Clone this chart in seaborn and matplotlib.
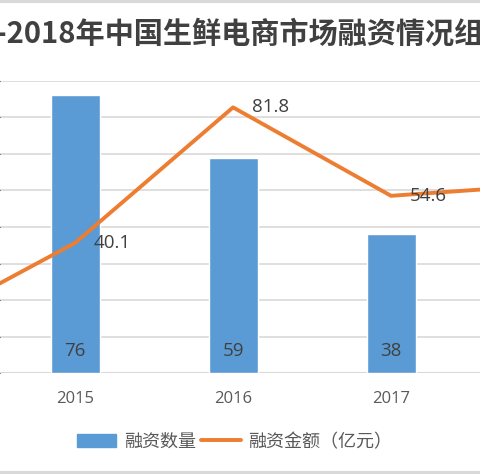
import numpy as np
import pandas as pd
import matplotlib
matplotlib.use("Agg")
import matplotlib.pyplot as plt
from matplotlib.lines import Line2D
import seaborn as sns

# data (2014 and 2018 lie outside the visible crop)
years = ["2014", "2015", "2016", "2017", "2018"]
deal_count = [np.nan, 76, 59, 38, np.nan]
deal_amount = [14.0, 40.1, 81.8, 54.6, 58.0]
shown_labels = [False, True, True, True, False]

title = "2014-2018年中国生鲜电商市场融资情况组合图"
bar_label = "融资数量"
line_label = "融资金额（亿元）"

sns.set_style("white")
plt.rcParams['font.family'] = ['Noto Sans CJK SC', 'DejaVu Sans']

BLUE = "#5B9BD5"
ORANGE = "#ED7D31"
GRID = "#D9D9D9"
TXT = "#404040"
NUMFONT = ["Open Sans", "DejaVu Sans"]

fig = plt.figure(figsize=(4.8, 4.74), dpi=100)
ax = fig.add_axes([0, 0.2124, 1, 0.6173])

df = pd.DataFrame({"year": years, "count": deal_count, "amount": deal_amount})
sns.barplot(data=df, x="year", y="count", color=BLUE, width=0.31,
            saturation=1, ax=ax, zorder=2)
ax.set_ylim(0, 80)
ax.set_yticks(np.arange(0, 81, 10))
ax.yaxis.grid(True, color=GRID, lw=1.2, zorder=0)
ax.set_axisbelow(True)
for s in ax.spines.values():
    s.set_visible(False)
ax.axhline(0, color=GRID, lw=1.5, zorder=1)
ax.set_yticklabels([])
ax.tick_params(left=False, bottom=False, axis="x", pad=9, labelsize=12, labelcolor="#595959")
for t in ax.get_xticklabels():
    t.set_family(NUMFONT)
ax.set_xlabel("")
ax.set_ylabel("")

for i, v in enumerate(deal_count):
    if not np.isnan(v):
        ax.text(i, 6.0, f"{v:.0f}", ha="center", va="center",
                fontsize=13.5, color=TXT, family=NUMFONT, zorder=3)

ax2 = ax.twinx()
sns.lineplot(x=np.arange(len(years)), y=deal_amount, color=ORANGE, lw=2.8,
             sort=False, ax=ax2, zorder=4)
ax2.set_ylim(0, 90)
ax2.set_yticks([])
for s in ax2.spines.values():
    s.set_visible(False)

for i, v in enumerate(deal_amount):
    if shown_labels[i]:
        ax2.text(i + 0.12, v, f"{v}", ha="left", va="center", fontsize=13.5,
                 color=TXT, family=NUMFONT, zorder=5)

ax.set_xlim(0.525, 3.563)
ax2.set_xlim(0.525, 3.563)

# the chart is a crop: title runs past both edges
fig.text(-0.149, 0.930, title, ha="left", va="center", fontsize=21.0,
         fontweight="bold", color=TXT)

handles = [plt.Rectangle((0, 0), 1, 1, color=BLUE),
           Line2D([0], [0], color=ORANGE, lw=2.8)]
fig.legend(handles, [bar_label, line_label], loc="center",
           bbox_to_anchor=(0.488, 0.068), ncol=2, frameon=False, fontsize=13,
           handlelength=2.2, columnspacing=0.3, handletextpad=0.4,
           labelcolor="#595959")

fig.add_artist(Line2D([0, 1], [0.998, 0.998], color=GRID, lw=3))
fig.add_artist(Line2D([0, 1], [0.003, 0.003], color=GRID, lw=3))

fig.savefig("out.png", dpi=100)
